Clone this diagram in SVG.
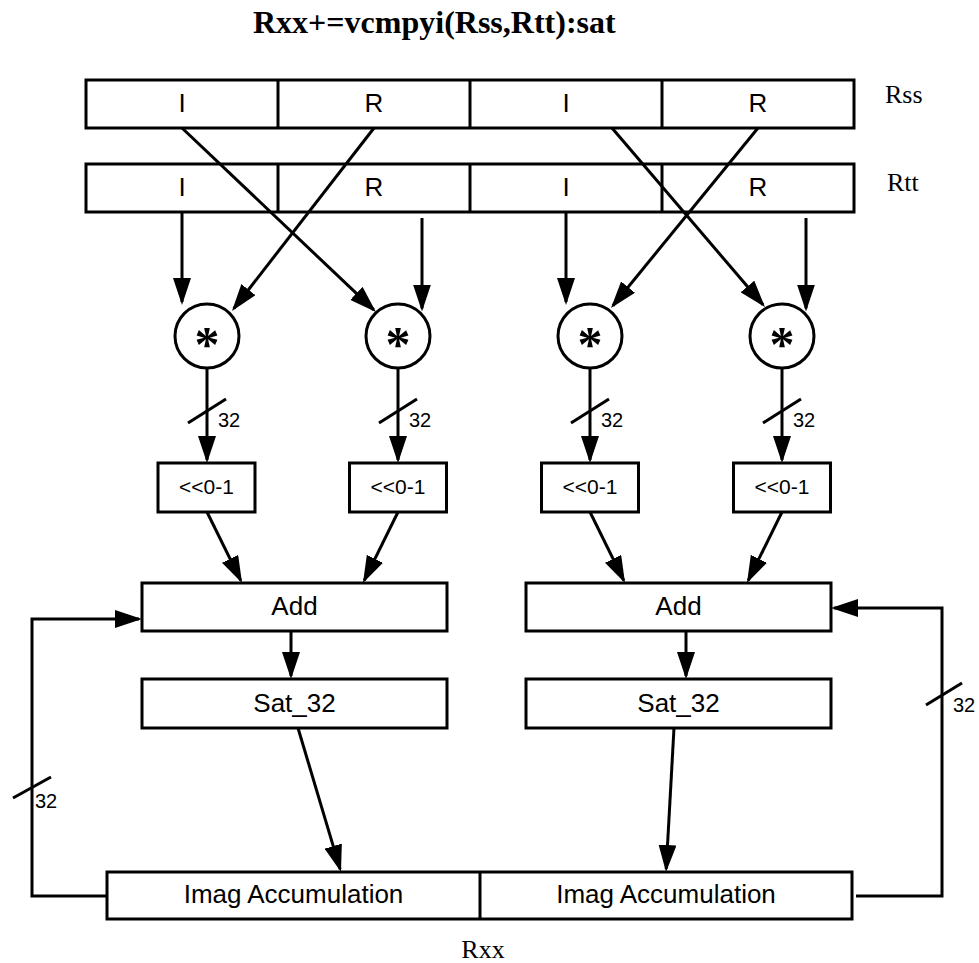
<svg xmlns="http://www.w3.org/2000/svg" width="979" height="963" viewBox="0 0 979 963">
<defs>
<style>
.b{fill:#fff;stroke:#000;stroke-width:3}
.l{fill:none;stroke:#000;stroke-width:3}
.a{fill:none;stroke:#000;stroke-width:3;marker-end:url(#ah)}
.t{font-family:"Liberation Sans",Arial,sans-serif;font-size:26px;text-anchor:middle;fill:#000}
.s{font-family:"Liberation Sans",Arial,sans-serif;font-size:20px;fill:#000}
.sm{font-family:"Liberation Sans",Arial,sans-serif;font-size:21px;text-anchor:middle;fill:#000}
.r{font-family:"Liberation Serif","Times New Roman",serif;font-size:26px;fill:#000}
.st{font-family:"Liberation Serif","Times New Roman",serif;font-size:50px;font-weight:bold;text-anchor:middle;fill:#000}
</style>
<marker id="ah" markerUnits="userSpaceOnUse" markerWidth="27" markerHeight="18" viewBox="0 0 27 18" refX="24" refY="9" orient="auto"><path d="M0,0 L27,9 L0,18 z" fill="#000"/></marker>
</defs>
<rect width="979" height="963" fill="#fff"/>
<text x="253" y="33" style="font-family:'Liberation Serif','Times New Roman',serif;font-size:32px;font-weight:bold">Rxx+=vcmpyi(Rss,Rtt):sat</text>

<g id="Rss">
<rect class="b" x="86" y="80" width="768" height="48"/>
<line class="l" x1="278" y1="80" x2="278" y2="128"/>
<line class="l" x1="470" y1="80" x2="470" y2="128"/>
<line class="l" x1="662" y1="80" x2="662" y2="128"/>
<text class="t" x="182" y="112">I</text>
<text class="t" x="374" y="112">R</text>
<text class="t" x="566" y="112">I</text>
<text class="t" x="758" y="112">R</text>
<text class="r" x="885" y="103">Rss</text>
</g>
<g id="Rtt">
<rect class="b" x="86" y="164" width="768" height="48"/>
<line class="l" x1="278" y1="164" x2="278" y2="212"/>
<line class="l" x1="470" y1="164" x2="470" y2="212"/>
<line class="l" x1="662" y1="164" x2="662" y2="212"/>
<text class="t" x="182" y="196">I</text>
<text class="t" x="374" y="196">R</text>
<text class="t" x="566" y="196">I</text>
<text class="t" x="758" y="196">R</text>
<text class="r" x="887" y="191">Rtt</text>
</g>

<g id="mul1"><circle class="b" cx="207" cy="336" r="32"/><text class="st" x="207" y="361">*</text></g>
<g id="mul2"><circle class="b" cx="398" cy="336" r="32"/><text class="st" x="398" y="361">*</text></g>
<g id="mul3"><circle class="b" cx="590" cy="336" r="32"/><text class="st" x="590" y="361">*</text></g>
<g id="mul4"><circle class="b" cx="782" cy="336" r="32"/><text class="st" x="782" y="361">*</text></g>

<g id="sh1"><rect class="b" x="158" y="463" width="97" height="49"/><text class="sm" x="206.5" y="494">&lt;&lt;0-1</text></g>
<g id="sh2"><rect class="b" x="349.5" y="463" width="97" height="49"/><text class="sm" x="398" y="494">&lt;&lt;0-1</text></g>
<g id="sh3"><rect class="b" x="541.5" y="463" width="97" height="49"/><text class="sm" x="590" y="494">&lt;&lt;0-1</text></g>
<g id="sh4"><rect class="b" x="733.5" y="463" width="97" height="49"/><text class="sm" x="782" y="494">&lt;&lt;0-1</text></g>

<g id="add1"><rect class="b" x="142" y="583" width="305" height="48"/><text class="t" x="294.5" y="615">Add</text></g>
<g id="add2"><rect class="b" x="526" y="583" width="305" height="48"/><text class="t" x="678.5" y="615">Add</text></g>
<g id="sat1"><rect class="b" x="142" y="679" width="305" height="49"/><text class="t" x="294.5" y="712">Sat_32</text></g>
<g id="sat2"><rect class="b" x="526" y="679" width="305" height="49"/><text class="t" x="678.5" y="712">Sat_32</text></g>

<g id="Rxx">
<rect class="b" x="107" y="872" width="745" height="47"/>
<line class="l" x1="480" y1="872" x2="480" y2="919"/>
<text class="t" x="293.5" y="903">Imag Accumulation</text>
<text class="t" x="666" y="903">Imag Accumulation</text>
<text class="r" x="483" y="958" text-anchor="middle">Rxx</text>
</g>

<g id="connectors">
<line class="a" x1="182" y1="212" x2="182" y2="302"/>
<line class="a" x1="422" y1="218" x2="422" y2="308.5"/>
<line class="a" x1="566" y1="212" x2="566" y2="302"/>
<line class="a" x1="806" y1="218" x2="806" y2="308.5"/>
<line class="a" x1="374" y1="128" x2="233.8" y2="308.6"/>
<line class="a" x1="182" y1="128" x2="373.8" y2="309.9"/>
<line class="a" x1="758" y1="128" x2="612.9" y2="305.7"/>
<line class="a" x1="612" y1="128" x2="763" y2="304.7"/>

<line class="a" x1="207" y1="368" x2="207" y2="460"/>
<line class="a" x1="398" y1="368" x2="398" y2="460"/>
<line class="a" x1="590" y1="368" x2="590" y2="460"/>
<line class="a" x1="782" y1="368" x2="782" y2="460"/>
<line class="l" x1="188" y1="423" x2="226" y2="399"/>
<line class="l" x1="379" y1="423" x2="417" y2="399"/>
<line class="l" x1="571" y1="423" x2="609" y2="399"/>
<line class="l" x1="763" y1="423" x2="801" y2="399"/>
<text class="s" x="218" y="427">32</text>
<text class="s" x="409" y="427">32</text>
<text class="s" x="601" y="427">32</text>
<text class="s" x="793" y="427">32</text>

<line class="a" x1="207" y1="512" x2="240.7" y2="580.3"/>
<line class="a" x1="398" y1="512" x2="364.3" y2="580.3"/>
<line class="a" x1="590" y1="512" x2="623.7" y2="580.3"/>
<line class="a" x1="782" y1="512" x2="748.3" y2="580.3"/>

<line class="a" x1="291" y1="631" x2="291" y2="676"/>
<line class="a" x1="686" y1="631" x2="686" y2="676"/>
<line class="a" x1="298" y1="728" x2="340.1" y2="869.1"/>
<line class="a" x1="674" y1="728" x2="666.2" y2="869"/>

<polyline class="a" points="107,896 32,896 32,619 139,619"/>
<line class="l" x1="13" y1="798" x2="51" y2="777"/>
<text class="s" x="35" y="808">32</text>
<polyline class="a" points="856,896 942,896 942,608 834,608"/>
<line class="l" x1="926" y1="705" x2="962" y2="683"/>
<text class="s" x="953" y="712">32</text>
</g>
</svg>
